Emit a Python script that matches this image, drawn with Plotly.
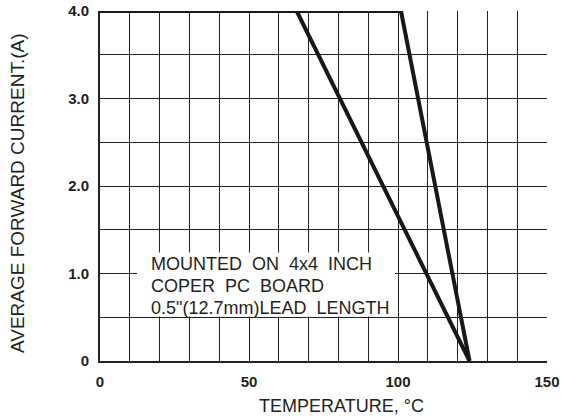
import plotly.graph_objects as go

# Data
temp_a = [0, 101, 124]
current_a = [4.0, 4.0, 0.0]
temp_b = [66, 124]
current_b = [4.0, 0.0]

x_tickvals = list(range(0, 151, 10))
x_ticktext = ["0", "", "", "", "", "50", "", "", "", "", "100", "", "", "", "", "150"]
y_tickvals = [0, 0.5, 1.0, 1.5, 2.0, 2.5, 3.0, 3.5, 4.0]
y_ticktext = ["0", "", "1.0", "", "2.0", "", "3.0", "", "4.0"]

note_lines = ["MOUNTED\u00a0 ON\u00a0 4x4\u00a0 INCH",
              "COPER\u00a0 PC\u00a0 BOARD",
              "0.5\"(12.7mm)LEAD\u00a0 LENGTH"]

INK = "#231f20"
FONT = "Liberation Sans, Arial, Helvetica, sans-serif"

fig = go.Figure()
fig.add_trace(go.Scatter(x=temp_a, y=current_a, mode="lines",
                         line=dict(color="#1a1718", width=4), cliponaxis=False,
                         showlegend=False, hoverinfo="skip"))
fig.add_trace(go.Scatter(x=temp_b, y=current_b, mode="lines",
                         line=dict(color="#1a1718", width=4), cliponaxis=False,
                         showlegend=False, hoverinfo="skip"))

# white box behind the note
fig.add_shape(type="rect", xref="x", yref="y",
              x0=12.4, x1=99.0, y0=0.51, y1=1.24,
              fillcolor="white", line=dict(width=0), layer="above")

note_y = [1.105, 0.855, 0.605]
for line, yy in zip(note_lines, note_y):
    fig.add_annotation(xref="x", yref="y", x=16.4, y=yy,
                       text=line, showarrow=False,
                       xanchor="left", yanchor="middle", align="left",
                       font=dict(family=FONT, size=18, color=INK))

# axis titles
fig.add_annotation(xref="paper", yref="paper", x=0.540, y=0, yshift=-45,
                   text="TEMPERATURE, \u00b0C", showarrow=False,
                   xanchor="center", yanchor="middle",
                   font=dict(family=FONT, size=18, color=INK))
fig.add_annotation(xref="paper", yref="paper", x=0, xshift=-83, y=0.48,
                   text="AVERAGE FORWARD CURRENT.(A)", showarrow=False,
                   textangle=-90, xanchor="center", yanchor="middle",
                   font=dict(family=FONT, size=19, color=INK))

fig.update_xaxes(range=[0, 150], tickvals=x_tickvals, ticktext=x_ticktext,
                 showgrid=True, gridcolor=INK, gridwidth=1.4,
                 showline=True, linecolor=INK, linewidth=2,
                 zeroline=False, ticks="", ticklabelstandoff=6, automargin=False,
                 tickfont=dict(family=FONT, size=15, color=INK, weight="bold"))
fig.update_yaxes(range=[0, 4], tickvals=y_tickvals, ticktext=y_ticktext,
                 showgrid=True, gridcolor=INK, gridwidth=1.4,
                 showline=True, linecolor=INK, linewidth=2,
                 zeroline=False, ticks="", ticklabelstandoff=6, automargin=False,
                 tickfont=dict(family=FONT, size=15, color=INK, weight="bold"))

fig.update_layout(width=561, height=419,
                  margin=dict(l=100, r=14, t=11, b=58),
                  paper_bgcolor="white", plot_bgcolor="white",
                  showlegend=False)

fig.write_html("out.html", config={"displayModeBar": False},
               post_script="document.body.style.margin='0px';")
